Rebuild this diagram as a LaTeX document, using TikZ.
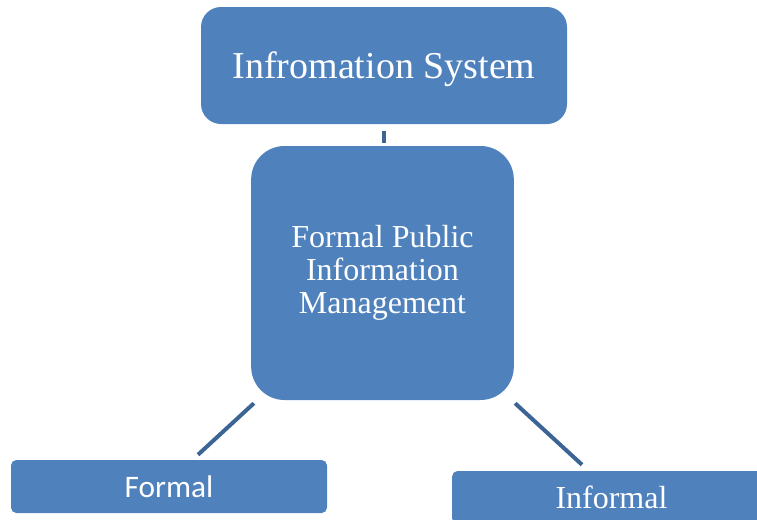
\documentclass[tikz,border=0pt]{standalone}
\usepackage{fontspec}
\setmainfont{Liberation Serif}
\newfontfamily\calibri{Carlito}
\usetikzlibrary{calc,positioning}
\definecolor{boxblue}{HTML}{4F81BD}
\definecolor{linkblue}{HTML}{3C6595}
\tikzset{
  blok/.style={rectangle,fill=boxblue,text=white,align=center,inner sep=0pt},
  link/.style={draw=linkblue,line width=3pt}
}
\begin{document}
\begin{tikzpicture}[x=0.75pt,y=-0.75pt]
\useasboundingbox (0,0) rectangle (757,519);
\node[blok,minimum width=274.5pt,minimum height=87.75pt,rounded corners=15pt,text depth=0pt,font=\fontsize{28.5}{34}\selectfont] at (384,65.5) (sys) {Infromation System};
\node[blok,minimum width=197pt,minimum height=190.5pt,rounded corners=25pt,font=\fontsize{24}{25}\selectfont] at (382.5,273) (fpim) {Formal Public\\Information\\Management};
\node[blok,minimum width=237pt,minimum height=39.75pt,rounded corners=4pt,font=\calibri\fontsize{23.5}{25}\selectfont] at (169,486.5) (formal) {Formal};
\node[blok,minimum width=239pt,minimum height=39.75pt,rounded corners=4pt,font=\fontsize{24}{29}\selectfont] at (611.5,497.5) (informal) {Informal};
% connectors
\draw[link,shorten <=5.25pt,shorten >=2.25pt] (sys.south) -- (sys.south |- fpim.north);
\draw[link] ($(fpim.south west)+(3,3)$) -- ($(formal.north)+(29,-5)$);
\draw[link] ($(fpim.south east)+(1,3)$) -- ($(informal.north)+(-29.5,-6)$);
\end{tikzpicture}
\end{document}
